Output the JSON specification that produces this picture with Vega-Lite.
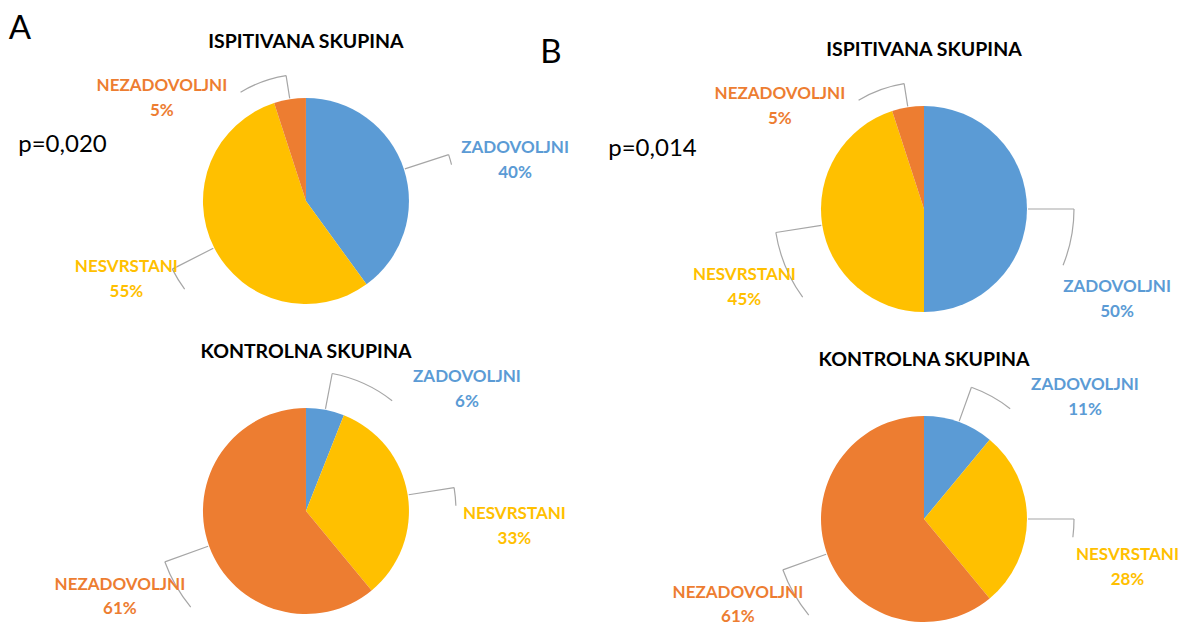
{
  "$schema": "https://vega.github.io/schema/vega-lite/v6.json",
  "width": 1186,
  "height": 628,
  "autosize": "none",
  "padding": 0,
  "background": "white",
  "config": {"view": {"stroke": null}, "font": "Lato"},
  "datasets": {
    "shares": [
      {"panel": "A", "group": "ISPITIVANA SKUPINA", "category": "ZADOVOLJNI", "share": 0.40, "order": 1},
      {"panel": "A", "group": "ISPITIVANA SKUPINA", "category": "NESVRSTANI", "share": 0.55, "order": 2},
      {"panel": "A", "group": "ISPITIVANA SKUPINA", "category": "NEZADOVOLJNI", "share": 0.05, "order": 3},
      {"panel": "A", "group": "KONTROLNA SKUPINA", "category": "ZADOVOLJNI", "share": 0.06, "order": 1},
      {"panel": "A", "group": "KONTROLNA SKUPINA", "category": "NESVRSTANI", "share": 0.33, "order": 2},
      {"panel": "A", "group": "KONTROLNA SKUPINA", "category": "NEZADOVOLJNI", "share": 0.61, "order": 3},
      {"panel": "B", "group": "ISPITIVANA SKUPINA", "category": "ZADOVOLJNI", "share": 0.50, "order": 1},
      {"panel": "B", "group": "ISPITIVANA SKUPINA", "category": "NESVRSTANI", "share": 0.45, "order": 2},
      {"panel": "B", "group": "ISPITIVANA SKUPINA", "category": "NEZADOVOLJNI", "share": 0.05, "order": 3},
      {"panel": "B", "group": "KONTROLNA SKUPINA", "category": "ZADOVOLJNI", "share": 0.11, "order": 1},
      {"panel": "B", "group": "KONTROLNA SKUPINA", "category": "NESVRSTANI", "share": 0.28, "order": 2},
      {"panel": "B", "group": "KONTROLNA SKUPINA", "category": "NEZADOVOLJNI", "share": 0.61, "order": 3}
    ],
    "tests": [
      {"panel": "A", "p": "p=0,020"},
      {"panel": "B", "p": "p=0,014"}
    ]
  },
  "encoding": {
    "x": {"field": "panel", "type": "nominal", "axis": null,
      "scale": {"type": "point", "domain": ["A", "B"], "padding": 0.4595, "align": 0.5387}},
    "y": {"field": "group", "type": "nominal", "axis": null,
      "scale": {"type": "point", "domain": ["ISPITIVANA SKUPINA", "KONTROLNA SKUPINA"], "padding": 0.5129, "align": 0.6447}},
    "yOffset": {"field": "panel", "type": "nominal",
      "scale": {"type": "point", "domain": ["A", "B"], "range": [-4, 4], "padding": 0}}
  },
  "layer": [
    {
      "data": {"name": "shares"},
      "transform": [
        {"stack": "share", "groupby": ["panel", "group"], "sort": [{"field": "order", "order": "ascending"}], "offset": "normalize", "as": ["v0", "v1"]},
        {"fold": ["v0", "v1"], "as": ["edge", "ang"]},
        {"aggregate": [
          {"op": "mean", "field": "ang", "as": "mid"},
          {"op": "min", "field": "ang", "as": "start"},
          {"op": "max", "field": "ang", "as": "end"}
        ], "groupby": ["panel", "group", "category", "share", "order"]}
      ],
      "layer": [
        {
          "mark": {"type": "arc", "radius": 103},
          "encoding": {
            "theta": {"field": "start", "type": "quantitative", "stack": null, "scale": {"domain": [0, 1]}},
            "theta2": {"field": "end"},
            "color": {"field": "category", "type": "nominal", "legend": null,
              "scale": {"domain": ["ZADOVOLJNI", "NESVRSTANI", "NEZADOVOLJNI"], "range": ["#5B9BD5", "#FFC000", "#ED7D31"]}}
          }
        },
        {
          "transform": [{"filter": "datum.order == 1"}],
          "mark": {"type": "text", "fontWeight": "bold", "fontSize": 19.5, "baseline": "alphabetic", "align": "center", "dy": -153, "color": "#000000"},
          "encoding": {"text": {"field": "group"}}
        },
        {
          "transform": [{"filter": "datum.group == 'ISPITIVANA SKUPINA' && datum.category == 'ZADOVOLJNI'"}],
          "layer": [
            {"mark": {"type": "arc", "radius": 150, "radius2": 104, "stroke": "#A6A6A6", "strokeWidth": 1.2, "fillOpacity": 0},
              "encoding": {"theta": {"field": "mid", "type": "quantitative", "stack": null, "scale": {"domain": [0, 1]}}, "theta2": {"field": "mid"}}},
            {"mark": {"type": "arc", "radius": 150, "radius2": 150, "theta2Offset": -1.187, "stroke": "#A6A6A6", "strokeWidth": 1.2, "fillOpacity": 0},
              "encoding": {"theta": {"field": "mid", "type": "quantitative", "stack": null, "scale": {"domain": [0, 1]}}, "theta2": {"field": "end"}}},
            {"mark": {"type": "text", "radius": 213, "thetaOffset": -1.1345, "dy": -7, "baseline": "alphabetic", "fontSize": 17, "fontWeight": "bold"},
              "encoding": {"theta": {"field": "end", "type": "quantitative", "stack": null, "scale": {"domain": [0, 1]}}, "text": {"field": "category"}, "color": {"field": "category", "type": "nominal"}}},
            {"mark": {"type": "text", "radius": 213, "thetaOffset": -1.1345, "dy": 18, "baseline": "alphabetic", "fontSize": 17, "fontWeight": "bold"},
              "encoding": {"theta": {"field": "end", "type": "quantitative", "stack": null, "scale": {"domain": [0, 1]}}, "text": {"field": "share", "format": ".0%"}, "color": {"field": "category", "type": "nominal"}}}
          ]
        },
        {
          "transform": [{"filter": "datum.group == 'ISPITIVANA SKUPINA' && datum.category == 'NESVRSTANI'"}],
          "layer": [
            {"mark": {"type": "arc", "radius": 150, "radius2": 104, "stroke": "#A6A6A6", "strokeWidth": 1.2, "fillOpacity": 0},
              "encoding": {"theta": {"field": "mid", "type": "quantitative", "stack": null, "scale": {"domain": [0, 1]}}, "theta2": {"field": "mid"}}},
            {"mark": {"type": "arc", "radius": 150, "radius2": 150, "theta2Offset": -1.885, "stroke": "#A6A6A6", "strokeWidth": 1.2, "fillOpacity": 0},
              "encoding": {"theta": {"field": "mid", "type": "quantitative", "stack": null, "scale": {"domain": [0, 1]}}, "theta2": {"field": "end"}}},
            {"mark": {"type": "text", "radius": 196, "thetaOffset": -1.6685, "dy": -7, "baseline": "alphabetic", "fontSize": 17, "fontWeight": "bold"},
              "encoding": {"theta": {"field": "end", "type": "quantitative", "stack": null, "scale": {"domain": [0, 1]}}, "text": {"field": "category"}, "color": {"field": "category", "type": "nominal"}}},
            {"mark": {"type": "text", "radius": 196, "thetaOffset": -1.6685, "dy": 18, "baseline": "alphabetic", "fontSize": 17, "fontWeight": "bold"},
              "encoding": {"theta": {"field": "end", "type": "quantitative", "stack": null, "scale": {"domain": [0, 1]}}, "text": {"field": "share", "format": ".0%"}, "color": {"field": "category", "type": "nominal"}}}
          ]
        },
        {
          "transform": [{"filter": "datum.group == 'ISPITIVANA SKUPINA' && datum.category == 'NEZADOVOLJNI'"}],
          "layer": [
            {"mark": {"type": "arc", "radius": 127, "radius2": 104, "stroke": "#A6A6A6", "strokeWidth": 1.2, "fillOpacity": 0},
              "encoding": {"theta": {"field": "mid", "type": "quantitative", "stack": null, "scale": {"domain": [0, 1]}}, "theta2": {"field": "mid"}}},
            {"mark": {"type": "arc", "radius": 127, "radius2": 127, "theta2Offset": -0.384, "stroke": "#A6A6A6", "strokeWidth": 1.2, "fillOpacity": 0},
              "encoding": {"theta": {"field": "mid", "type": "quantitative", "stack": null, "scale": {"domain": [0, 1]}}, "theta2": {"field": "mid"}}},
            {"mark": {"type": "text", "radius": 177, "thetaOffset": -0.7941, "dy": -7, "baseline": "alphabetic", "fontSize": 17, "fontWeight": "bold"},
              "encoding": {"theta": {"field": "mid", "type": "quantitative", "stack": null, "scale": {"domain": [0, 1]}}, "text": {"field": "category"}, "color": {"field": "category", "type": "nominal"}}},
            {"mark": {"type": "text", "radius": 177, "thetaOffset": -0.7941, "dy": 18, "baseline": "alphabetic", "fontSize": 17, "fontWeight": "bold"},
              "encoding": {"theta": {"field": "mid", "type": "quantitative", "stack": null, "scale": {"domain": [0, 1]}}, "text": {"field": "share", "format": ".0%"}, "color": {"field": "category", "type": "nominal"}}}
          ]
        },
        {
          "transform": [{"filter": "datum.group == 'KONTROLNA SKUPINA' && datum.category == 'ZADOVOLJNI'"}],
          "layer": [
            {"mark": {"type": "arc", "radius": 140, "radius2": 104, "stroke": "#A6A6A6", "strokeWidth": 1.2, "fillOpacity": 0},
              "encoding": {"theta": {"field": "mid", "type": "quantitative", "stack": null, "scale": {"domain": [0, 1]}}, "theta2": {"field": "mid"}}},
            {"mark": {"type": "arc", "radius": 140, "radius2": 140, "theta2Offset": 0.663, "stroke": "#A6A6A6", "strokeWidth": 1.2, "fillOpacity": 0},
              "encoding": {"theta": {"field": "mid", "type": "quantitative", "stack": null, "scale": {"domain": [0, 1]}}, "theta2": {"field": "start"}}},
            {"mark": {"type": "text", "radius": 202, "thetaOffset": 0.9224, "dy": -7, "baseline": "alphabetic", "fontSize": 17, "fontWeight": "bold"},
              "encoding": {"theta": {"field": "start", "type": "quantitative", "stack": null, "scale": {"domain": [0, 1]}}, "text": {"field": "category"}, "color": {"field": "category", "type": "nominal"}}},
            {"mark": {"type": "text", "radius": 202, "thetaOffset": 0.9224, "dy": 18, "baseline": "alphabetic", "fontSize": 17, "fontWeight": "bold"},
              "encoding": {"theta": {"field": "start", "type": "quantitative", "stack": null, "scale": {"domain": [0, 1]}}, "text": {"field": "share", "format": ".0%"}, "color": {"field": "category", "type": "nominal"}}}
          ]
        },
        {
          "transform": [{"filter": "datum.group == 'KONTROLNA SKUPINA' && datum.category == 'NESVRSTANI'"}],
          "layer": [
            {"mark": {"type": "arc", "radius": 150, "radius2": 104, "stroke": "#A6A6A6", "strokeWidth": 1.2, "fillOpacity": 0},
              "encoding": {"theta": {"field": "mid", "type": "quantitative", "stack": null, "scale": {"domain": [0, 1]}}, "theta2": {"field": "mid"}}},
            {"mark": {"type": "arc", "radius": 150, "radius2": 150, "theta2Offset": 0.122, "stroke": "#A6A6A6", "strokeWidth": 1.2, "fillOpacity": 0},
              "encoding": {"theta": {"field": "mid", "type": "quantitative", "stack": null, "scale": {"domain": [0, 1]}}, "theta2": {"field": "mid"}}},
            {"mark": {"type": "text", "radius": 209, "thetaOffset": 0.2304, "dy": -7, "baseline": "alphabetic", "fontSize": 17, "fontWeight": "bold"},
              "encoding": {"theta": {"field": "mid", "type": "quantitative", "stack": null, "scale": {"domain": [0, 1]}}, "text": {"field": "category"}, "color": {"field": "category", "type": "nominal"}}},
            {"mark": {"type": "text", "radius": 209, "thetaOffset": 0.2304, "dy": 18, "baseline": "alphabetic", "fontSize": 17, "fontWeight": "bold"},
              "encoding": {"theta": {"field": "mid", "type": "quantitative", "stack": null, "scale": {"domain": [0, 1]}}, "text": {"field": "share", "format": ".0%"}, "color": {"field": "category", "type": "nominal"}}}
          ]
        },
        {
          "transform": [{"filter": "datum.group == 'KONTROLNA SKUPINA' && datum.category == 'NEZADOVOLJNI'"}],
          "layer": [
            {"mark": {"type": "arc", "radius": 150, "radius2": 104, "stroke": "#A6A6A6", "strokeWidth": 1.2, "fillOpacity": 0},
              "encoding": {"theta": {"field": "mid", "type": "quantitative", "stack": null, "scale": {"domain": [0, 1]}}, "theta2": {"field": "mid"}}},
            {"mark": {"type": "arc", "radius": 150, "radius2": 150, "theta2Offset": -0.349, "stroke": "#A6A6A6", "strokeWidth": 1.2, "fillOpacity": 0},
              "encoding": {"theta": {"field": "mid", "type": "quantitative", "stack": null, "scale": {"domain": [0, 1]}}, "theta2": {"field": "mid"}}},
            {"mark": {"type": "text", "radius": 205, "thetaOffset": -0.0873, "dy": -7, "baseline": "alphabetic", "fontSize": 17, "fontWeight": "bold"},
              "encoding": {"theta": {"field": "mid", "type": "quantitative", "stack": null, "scale": {"domain": [0, 1]}}, "text": {"field": "category"}, "color": {"field": "category", "type": "nominal"}}},
            {"mark": {"type": "text", "radius": 205, "thetaOffset": -0.0873, "dy": 17, "baseline": "alphabetic", "fontSize": 17, "fontWeight": "bold"},
              "encoding": {"theta": {"field": "mid", "type": "quantitative", "stack": null, "scale": {"domain": [0, 1]}}, "text": {"field": "share", "format": ".0%"}, "color": {"field": "category", "type": "nominal"}}}
          ]
        }
      ]
    },
    {
      "data": {"name": "tests"},
      "layer": [
        {
          "transform": [{"filter": "datum.panel == 'A'"}],
          "mark": {"type": "text", "fontSize": 33, "baseline": "alphabetic", "align": "center", "dx": -286, "dy": -162, "color": "#000000"},
          "encoding": {"y": {"datum": "ISPITIVANA SKUPINA", "type": "nominal"}, "text": {"field": "panel"}}
        },
        {
          "transform": [{"filter": "datum.panel == 'B'"}],
          "mark": {"type": "text", "fontSize": 33, "baseline": "alphabetic", "align": "center", "dx": -373, "dy": -146, "color": "#000000"},
          "encoding": {"y": {"datum": "ISPITIVANA SKUPINA", "type": "nominal"}, "text": {"field": "panel"}}
        },
        {
          "transform": [{"filter": "datum.panel == 'A'"}],
          "mark": {"type": "text", "fontSize": 24, "baseline": "alphabetic", "align": "center", "dx": -243.5, "dy": -49, "color": "#000000"},
          "encoding": {"y": {"datum": "ISPITIVANA SKUPINA", "type": "nominal"}, "text": {"field": "p"}}
        },
        {
          "transform": [{"filter": "datum.panel == 'B'"}],
          "mark": {"type": "text", "fontSize": 24, "baseline": "alphabetic", "align": "center", "dx": -271.5, "dy": -53, "color": "#000000"},
          "encoding": {"y": {"datum": "ISPITIVANA SKUPINA", "type": "nominal"}, "text": {"field": "p"}}
        }
      ]
    }
  ]
}
